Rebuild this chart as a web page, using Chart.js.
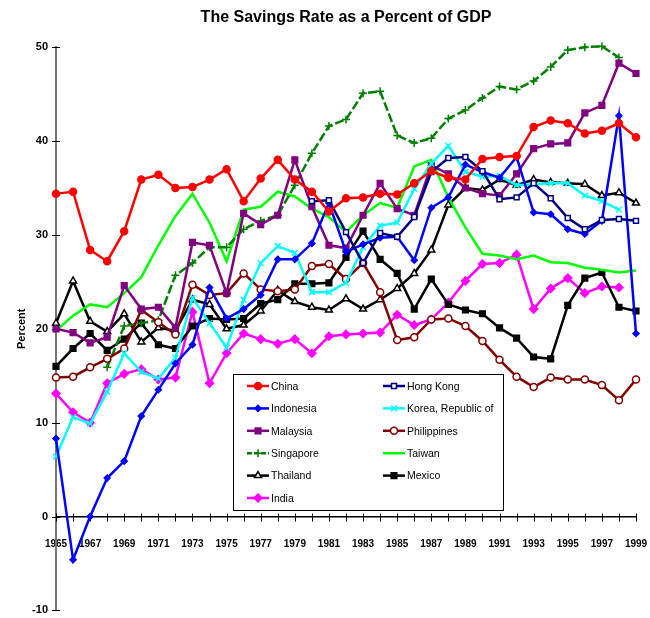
<!DOCTYPE html>
<html>
<head>
<meta charset="utf-8">
<script src="https://cdn.jsdelivr.net/npm/chart.js@4/dist/chart.umd.min.js"></script>
<style>
  html, body { margin: 0; padding: 0; background: #fff; }
</style>
</head>
<body>
<canvas id="chart" width="650" height="618"></canvas>
<script>
// ===== DATA =====
const years = ["1965","1966","1967","1968","1969","1970","1971","1972","1973","1974",
  "1975","1976","1977","1978","1979","1980","1981","1982","1983","1984",
  "1985","1986","1987","1988","1989","1990","1991","1992","1993","1994",
  "1995","1996","1997","1998","1999"];

const china = [34.4,34.6,28.4,27.2,30.4,35.9,36.4,35.0,35.1,35.9,37.0,33.6,36.0,38.0,35.9,34.6,32.5,33.9,34.0,34.4,34.3,35.5,36.8,36.1,35.9,38.1,38.3,38.4,41.5,42.2,41.9,40.8,41.1,41.9,40.4];
const hongKong = [null,null,null,null,null,null,null,null,null,null,null,null,null,null,null,33.6,33.7,30.3,27.0,30.2,29.8,31.9,36.7,38.2,38.3,36.8,33.8,34.0,35.5,33.9,31.8,30.6,31.6,31.7,31.5];
const indonesia = [8.3,-4.6,0.0,4.1,5.9,10.7,13.5,16.3,18.3,24.4,21.1,22.1,23.6,27.4,27.4,29.1,33.4,28.2,29.0,29.7,29.8,27.3,32.9,34.0,37.5,36.7,36.1,38.3,32.4,32.2,30.6,30.1,31.5,42.7,19.5];
const korea = [6.4,10.6,9.9,13.3,17.4,15.4,14.7,16.9,23.3,20.6,18.0,23.1,27.0,28.8,28.1,23.9,23.9,24.9,28.7,31.0,31.3,34.9,37.6,39.5,36.7,36.2,36.3,35.3,35.4,35.5,35.5,34.2,33.6,32.7,null];
const malaysia = [20.0,19.6,18.5,19.1,24.6,22.1,22.3,20.1,29.2,28.9,23.8,32.3,31.1,32.1,38.0,33.0,28.9,28.6,32.1,35.5,32.8,32.1,37.4,36.5,35.0,34.4,34.2,36.5,39.2,39.7,39.8,43.0,43.8,48.3,47.2];
const philippines = [14.8,14.9,15.9,16.8,17.9,22.0,20.7,19.4,24.7,23.6,23.8,25.9,24.2,24.0,24.2,26.7,26.9,25.3,27.0,23.9,18.8,19.1,21.0,21.1,20.3,18.7,16.7,14.9,13.8,14.8,14.6,14.6,14.0,12.4,14.6];
const singapore = [null,null,null,15.9,20.3,20.6,20.9,25.7,27.0,28.7,28.7,30.6,31.5,32.1,35.3,38.7,41.6,42.3,45.1,45.3,40.6,39.8,40.3,42.4,43.3,44.6,45.8,45.5,46.4,47.9,49.7,50.0,50.1,48.9,null];
const taiwan = [19.8,21.4,22.6,22.3,23.8,25.5,28.9,32.0,34.4,31.3,27.2,32.7,33.0,34.6,34.1,32.8,31.9,30.3,32.1,33.4,32.9,37.3,38.0,34.0,30.8,28.0,27.8,27.4,27.8,27.1,27.0,26.5,26.3,26.0,26.2];
const thailand = [20.6,25.1,20.8,19.7,21.6,18.6,20.1,19.8,23.1,22.6,20.0,20.4,21.9,24.1,22.9,22.3,22.0,23.2,22.1,23.1,24.3,25.9,28.4,33.2,35.0,34.8,35.9,35.3,35.9,35.6,35.5,35.4,34.2,34.5,33.4];
const mexico = [16.0,17.9,19.5,17.7,18.9,20.6,18.3,17.9,20.3,21.1,21.0,21.1,22.7,23.1,24.8,24.8,24.9,27.6,30.4,27.4,25.9,22.1,25.3,22.6,22.0,21.6,20.1,19.0,17.0,16.8,22.5,25.4,26.0,22.3,21.9];
const india = [13.1,11.1,10.0,14.2,15.2,15.7,14.6,14.8,21.8,14.2,17.4,19.5,18.9,18.4,18.9,17.4,19.2,19.4,19.5,19.6,21.5,20.4,21.0,22.8,25.1,26.9,27.0,27.9,22.1,24.3,25.4,23.8,24.5,24.4,null];

const sans = "'Liberation Sans', Arial, sans-serif";

// ===== SERIES (order = legend order, row by row) =====
function serie(label, data, color, style, bg, r, dash) {
  return {
    label, data,
    borderColor: color,
    backgroundColor: color,
    borderWidth: 2.5,
    borderDash: dash || [],
    tension: 0,
    clip: false,
    pointStyle: style,
    pointRadius: style ? r : 0,
    pointHoverRadius: style ? r : 0,
    pointBackgroundColor: bg,
    pointBorderColor: color,
    pointBorderWidth: 1.5
  };
}

const datasets = [
  serie("China", china, "#ff0000", "circle", "#ff0000", 3.5),
  serie("Hong Kong", hongKong, "#000080", "rect", "#ffffff", 3.5),
  serie("Indonesia", indonesia, "#0000ff", "rectRot", "#0000ff", 3),
  serie("Korea, Republic of", korea, "#00ffff", "crossRot", "#00ffff", 4),
  serie("Malaysia", malaysia, "#800080", "rect", "#800080", 4),
  serie("Philippines", philippines, "#800000", "circle", "#ffffff", 3.5),
  serie("Singapore", singapore, "#008000", "cross", "#008000", 4, [9, 3]),
  serie("Taiwan", taiwan, "#00ff00", false, "#00ff00", 0),
  serie("Thailand", thailand, "#000000", "triangle", "#ffffff", 4),
  serie("Mexico", mexico, "#000000", "rect", "#000000", 4),
  serie("India", india, "#ff00ff", "rectRot", "#ff00ff", 4)
];

// ===== PLUGINS =====
const crossTicks = {
  id: "crossTicks",
  beforeDatasetsDraw(chart) {
    const { ctx, scales: { x, y } } = chart;
    const y0 = Math.round(y.getPixelForValue(0)) + 0.5;
    ctx.save();
    ctx.strokeStyle = "#000";
    ctx.lineWidth = 1;
    ctx.beginPath();
    x.ticks.forEach((t, i) => {
      const px = Math.round(x.getPixelForTick(i)) + 0.5;
      ctx.moveTo(px, y0 - 4);
      ctx.lineTo(px, y0 + 4);
    });
    y.ticks.forEach((t, i) => {
      const py = Math.round(y.getPixelForTick(i)) + 0.5;
      ctx.moveTo(x.left - 4, py);
      ctx.lineTo(x.left + 4, py);
    });
    ctx.stroke();
    ctx.restore();
  }
};

const boxLegend = {
  id: "boxLegend",
  afterDatasetsDraw(chart) {
    const ctx = chart.ctx;
    const bx = 233, by = 374, bw = 270, bh = 136;
    ctx.save();
    ctx.fillStyle = "#fff";
    ctx.fillRect(bx, by, bw, bh);
    ctx.strokeStyle = "#000";
    ctx.lineWidth = 1;
    ctx.strokeRect(bx + 0.5, by + 0.5, bw, bh);

    chart.data.datasets.forEach((ds, i) => {
      const col = i % 2, row = Math.floor(i / 2);
      const x1 = col ? 383 : 247, x2 = x1 + 22;
      const yy = 386 + row * 22.4;
      ctx.strokeStyle = ds.borderColor;
      ctx.lineWidth = ds.borderWidth;
      ctx.setLineDash(ds.borderDash.length ? [5, 2] : []);
      ctx.beginPath();
      ctx.moveTo(x1, yy);
      ctx.lineTo(x2, yy);
      ctx.stroke();
      ctx.setLineDash([]);
      if (ds.pointStyle) {
        ctx.fillStyle = ds.pointBackgroundColor;
        ctx.strokeStyle = ds.pointBorderColor;
        ctx.lineWidth = ds.pointBorderWidth;
        Chart.helpers.drawPoint(ctx, {
          pointStyle: ds.pointStyle, radius: ds.pointRadius, rotation: 0,
          borderWidth: ds.pointBorderWidth
        }, (x1 + x2) / 2, yy);
      }
      ctx.fillStyle = "#000";
      ctx.font = "10.5px " + sans;
      ctx.textBaseline = "middle";
      ctx.textAlign = "left";
      ctx.fillText(ds.label, x2 + 2, yy + 1);
    });
    ctx.restore();
  }
};

// ===== CHART =====
// tick padding also feeds the layout padding, so labels are pushed off the axis
// with invisible tick marks instead
const hiddenTicks = len => ({
  display: true, drawOnChartArea: false, drawTicks: true,
  tickLength: len, color: "rgba(0,0,0,0)"
});

new Chart(document.getElementById("chart"), {
  type: "line",
  data: { labels: years, datasets },
  plugins: [crossTicks, boxLegend],
  options: {
    responsive: false,
    animation: false,
    layout: { padding: { left: 0, right: 14, top: 0, bottom: 1 } },
    plugins: {
      legend: { display: false },
      tooltip: { enabled: false },
      title: {
        display: true,
        fullSize: false,
        text: "The Savings Rate as a Percent of GDP",
        color: "#000",
        font: { family: sans, size: 16, weight: "bold" },
        padding: { top: 8, bottom: 20 }
      }
    },
    scales: {
      x: {
        position: { y: 0 },
        offset: false,
        afterFit: s => { s.height = 0; },
        grid: hiddenTicks(22),
        border: { display: true, color: "#000", width: 1.5 },
        ticks: {
          autoSkip: false,
          maxRotation: 0,
          minRotation: 0,
          padding: 0,
          color: "#000",
          font: { family: sans, size: 10, weight: "bold" },
          callback: function (v, i) { return i % 2 === 0 ? this.getLabelForValue(v) : ""; }
        }
      },
      y: {
        min: -10,
        max: 50,
        afterFit: s => { s.width = 56; },
        grid: hiddenTicks(7),
        border: { display: true, color: "#777", width: 2 },
        ticks: {
          stepSize: 10,
          padding: 1,
          color: "#000",
          font: { family: sans, size: 11, weight: "bold" }
        },
        title: {
          display: true,
          text: "Percent",
          color: "#000",
          font: { family: sans, size: 11, weight: "bold" },
          padding: { top: 15, bottom: 0 }
        }
      }
    }
  }
});
</script>
</body>
</html>
